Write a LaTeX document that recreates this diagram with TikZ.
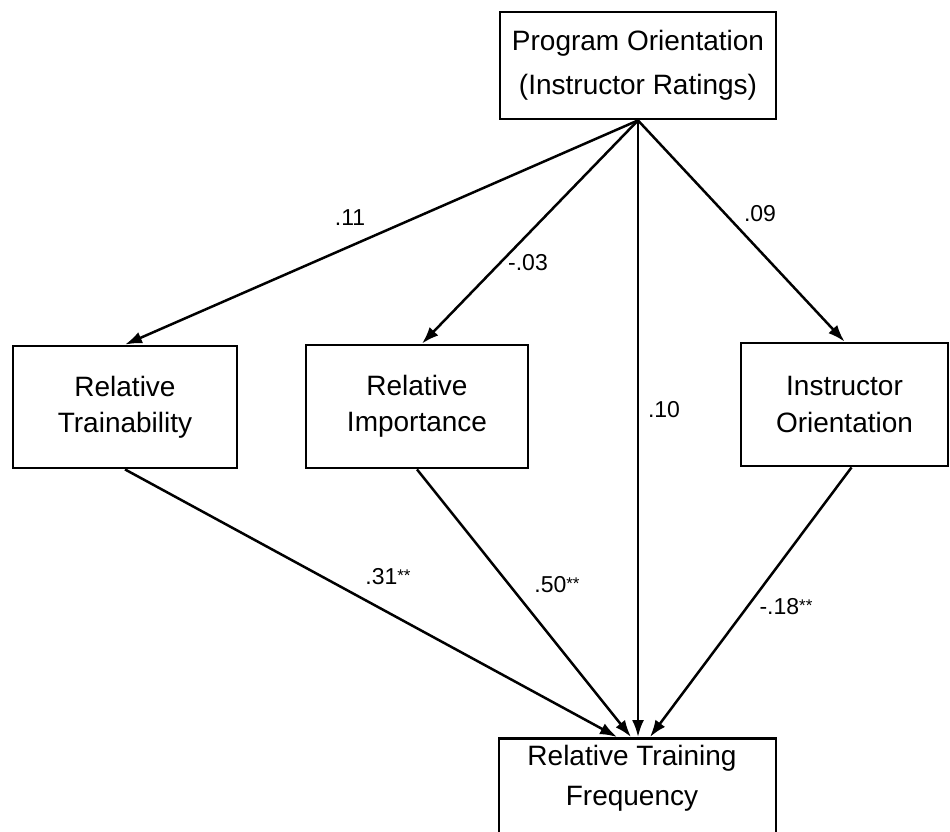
\documentclass[tikz,border=0pt]{standalone}
\usepackage{fontspec}
\setmainfont{Liberation Sans}
\usetikzlibrary{arrows.meta}
\begin{document}
\begin{tikzpicture}[x=1pt,y=-1pt,
  box/.style={draw, line width=2.8pt, inner sep=0pt, align=center},
  boxtext/.style={inner sep=0pt, align=center},
  arr/.style={line width=2.5pt, -{Latex[length=17pt,width=12pt]}},
  coef/.style={inner sep=0pt, font=\fontsize{23}{23}\selectfont},
]
\useasboundingbox (0,0) rectangle (950,831);
\clip (0,0) rectangle (950,831);
\newcommand{\stars}{{\fontsize{17}{17}\selectfont\raisebox{3pt}{**}}}

% boxes
\node[box, minimum width=276pt, minimum height=107pt,
      font=\fontsize{28}{44}\selectfont] (po) at (638,65.5)
      {Program Orientation\\(Instructor Ratings)};
\node[box, minimum width=224pt, minimum height=122pt,
      font=\fontsize{28}{36}\selectfont] (rt) at (125,407)
      {Relative\\Trainability};
\node[box, minimum width=222pt, minimum height=123pt,
      font=\fontsize{28}{36}\selectfont] (ri) at (417,406.5)
      {Relative\\Importance};
\node[box, minimum width=207pt, minimum height=123pt,
      font=\fontsize{28}{37}\selectfont] (io) at (844.5,404.5)
      {Instructor\\Orientation};
\node[box, minimum width=277pt, minimum height=140pt, anchor=north] (rtf)
      at (637.5,737) {};
\node[boxtext, font=\fontsize{28}{40}\selectfont] (rtftext) at (632,778)
      {Relative Training\\Frequency};

% paths from program orientation
\draw[arr] (po.south) -- (rt.north);
\draw[arr] (po.south) -- ([xshift=5pt]ri.north);
\draw[arr] (po.south) -- ([xshift=0.5pt]rtf.north);
\draw[arr] (po.south) -- (io.north);

% paths into training frequency
\draw[arr] (rt.south) -- ([xshift=-20.5pt]rtf.north);
\draw[arr] (ri.south) -- ([xshift=-6.5pt]rtf.north);
\draw[arr] ([xshift=7pt]io.south) -- ([xshift=12.5pt]rtf.north);

% path coefficients
\node[coef] (c11) at (350,218) {.11};
\node[coef] (c03) at (528,263) {-.03};
\node[coef] (c09) at (760,214) {.09};
\node[coef] (c10) at (664,410) {.10};
\node[coef] (c31) at (388,577) {.31\stars};
\node[coef] (c50) at (557,585) {.50\stars};
\node[coef] (c18) at (786,607) {-.18\stars};
\end{tikzpicture}
\end{document}
